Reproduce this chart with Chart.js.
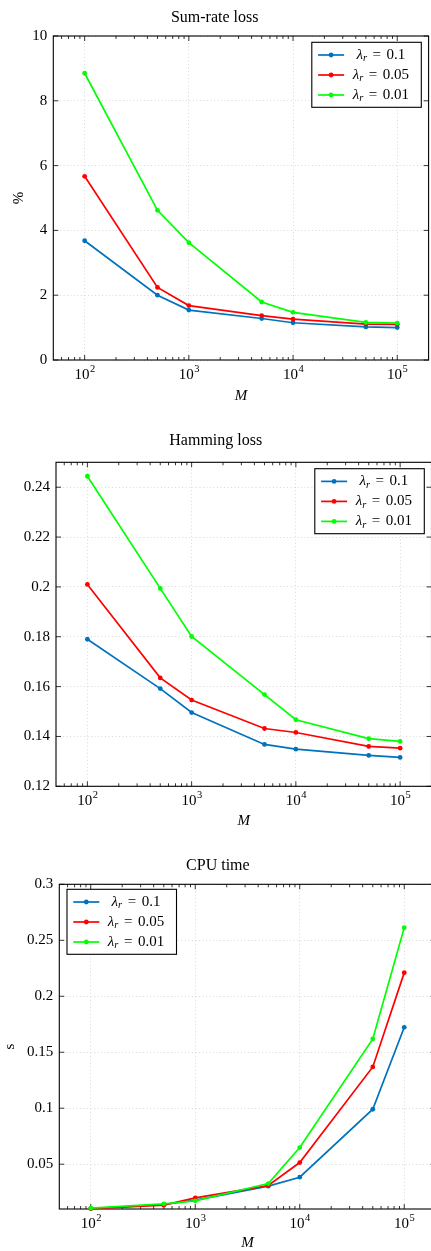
<!DOCTYPE html>
<html>
<head>
<meta charset="utf-8">
<script src="https://cdn.jsdelivr.net/npm/chart.js@4.4.0/dist/chart.umd.min.js"></script>
<style>
  body { margin: 0; background: #fff; }
  #page { position: relative; width: 431px; height: 1251px; overflow: hidden; background: #fff; }
  #page canvas { position: absolute; left: 0; }
</style>
</head>
<body>
<div id="page">
  <canvas id="sumRate"></canvas>
  <canvas id="hamming"></canvas>
  <canvas id="cpuTime"></canvas>
</div>
<script>
// number of training samples
const M = [100, 500, 1000, 5000, 10000, 50000, 100000];
const lambdaLabels = ['0.1', '0.05', '0.01'];
const seriesColors = ['#0072BD', '#FF0000', '#00FF00'];

// log axis ticks (majors get labels + grid)
const xTicks = [60, 70, 80, 90, 100, 200, 300, 400, 500, 600, 700, 800, 900,
  1000, 2000, 3000, 4000, 5000, 6000, 7000, 8000, 9000,
  10000, 20000, 30000, 40000, 50000, 60000, 70000, 80000, 90000, 100000, 200000];
const xMajor = [100, 1000, 10000, 100000];

// sum-rate loss, %
const sumRate01 = [3.68, 2.00, 1.54, 1.28, 1.15, 1.02, 1.00];
const sumRate005 = [5.67, 2.24, 1.68, 1.37, 1.26, 1.11, 1.10];
const sumRate001 = [8.85, 4.62, 3.62, 1.79, 1.47, 1.16, 1.14];
const sumRateTicks = [0, 2, 4, 6, 8, 10];

// hamming loss
const hamming01 = [0.1790, 0.1592, 0.1496, 0.1368, 0.1349, 0.1324, 0.1316];
const hamming005 = [0.2010, 0.1635, 0.1546, 0.1432, 0.1416, 0.1360, 0.1353];
const hamming001 = [0.2444, 0.1994, 0.1801, 0.1568, 0.1467, 0.1391, 0.1380];
const hammingTicks = [0.12, 0.14, 0.16, 0.18, 0.2, 0.22, 0.24];

// cpu time, s
const cpu01 = [0.0104, 0.0140, 0.0180, 0.0304, 0.0384, 0.0991, 0.1723];
const cpu005 = [0.0104, 0.0134, 0.0199, 0.0310, 0.0515, 0.1369, 0.2211];
const cpu001 = [0.0107, 0.0146, 0.0173, 0.0327, 0.0649, 0.1619, 0.2613];
const cpuTicks = [0.05, 0.1, 0.15, 0.2, 0.25, 0.3];

const FONT = '"Liberation Serif", "DejaVu Serif", serif';
const GRID = '#cfcfcf';

// frame, inward ticks and 10^n labels, pgfplots style
const frameTicks = {
  id: 'frameTicks',
  beforeDatasetsDraw(chart) {
    const { ctx, chartArea: a, scales: { x, y } } = chart;
    ctx.save();
    ctx.strokeStyle = '#000';
    ctx.lineWidth = 0.8;
    ctx.beginPath();
    x.ticks.forEach(t => {
      const px = x.getPixelForValue(t.value);
      if (px < a.left + 0.5 || px > a.right - 0.5) return;
      const len = xMajor.includes(t.value) ? 5 : 3;
      ctx.moveTo(px, a.bottom); ctx.lineTo(px, a.bottom - len);
      ctx.moveTo(px, a.top); ctx.lineTo(px, a.top + len);
    });
    y.ticks.forEach(t => {
      const py = y.getPixelForValue(t.value);
      ctx.moveTo(a.left, py); ctx.lineTo(a.left + 5, py);
      ctx.moveTo(a.right, py); ctx.lineTo(a.right - 5, py);
    });
    ctx.stroke();
    ctx.lineWidth = 1.1;
    ctx.strokeRect(a.left, a.top, a.width, a.height);

    ctx.fillStyle = '#000';
    ctx.textBaseline = 'middle';
    ctx.textAlign = 'left';
    xMajor.forEach(v => {
      const px = x.getPixelForValue(v);
      const exp = String(Math.round(Math.log10(v)));
      ctx.font = '15px ' + FONT;
      const w1 = ctx.measureText('10').width;
      ctx.font = '10.5px ' + FONT;
      const w2 = ctx.measureText(exp).width;
      const x0 = px - (w1 + w2) / 2;
      ctx.font = '15px ' + FONT;
      ctx.fillText('10', x0, a.bottom + 15);
      ctx.font = '10.5px ' + FONT;
      ctx.fillText(exp, x0 + w1 + 0.5, a.bottom + 9);
    });
    ctx.restore();
  }
};

// boxed legend with centred math labels
const boxLegend = {
  id: 'boxLegend',
  afterDraw(chart, args, opts) {
    const { ctx, chartArea: a } = chart;
    const bw = 109.5, bh = 65;
    const bx = opts.corner === 'ne' ? a.right - opts.dx - bw : a.left + opts.dx;
    const by = a.top + opts.dy;
    ctx.save();
    ctx.fillStyle = '#fff';
    ctx.fillRect(bx, by, bw, bh);
    ctx.strokeStyle = '#000';
    ctx.lineWidth = 1.1;
    ctx.strokeRect(bx, by, bw, bh);
    ctx.textBaseline = 'middle';
    ctx.textAlign = 'left';
    chart.data.datasets.forEach((ds, i) => {
      const cy = by + 12.7 + i * 20;
      ctx.strokeStyle = ds.borderColor;
      ctx.lineWidth = 1.7;
      ctx.beginPath();
      ctx.moveTo(bx + 6.3, cy); ctx.lineTo(bx + 32.3, cy);
      ctx.stroke();
      ctx.fillStyle = ds.borderColor;
      ctx.beginPath();
      ctx.arc(bx + 19.3, cy, 2.4, 0, Math.PI * 2);
      ctx.fill();

      const main = '15px ' + FONT, mainIt = 'italic 15px ' + FONT, sub = 'italic 10.5px ' + FONT;
      const val = ds.label;
      ctx.font = mainIt; const wl = ctx.measureText('λ').width;
      ctx.font = sub; const wr = ctx.measureText('r').width;
      ctx.font = main; const we = ctx.measureText('=').width; const wv = ctx.measureText(val).width;
      const gap = 5.5;
      const total = wl + wr + gap + we + gap + wv;
      let tx = bx + 69 - total / 2;
      ctx.fillStyle = '#000';
      ctx.font = mainIt; ctx.fillText('λ', tx, cy); tx += wl;
      ctx.font = sub; ctx.fillText('r', tx, cy + 3.5); tx += wr + gap;
      ctx.font = main; ctx.fillText('=', tx, cy); tx += we + gap;
      ctx.fillText(val, tx, cy);
    });
    ctx.restore();
  }
};

function makeChart(id, g, series, yMin, yMax, yTicks, title, yTitle) {
  const canvas = document.getElementById(id);
  canvas.width = g.width;
  canvas.height = g.height;
  canvas.style.top = g.top + 'px';
  canvas.style.width = g.width + 'px';
  canvas.style.height = g.height + 'px';

  const datasets = series.map((vals, i) => ({
    label: lambdaLabels[i],
    data: M.map((m, k) => ({ x: m, y: vals[k] })),
    borderColor: seriesColors[i],
    backgroundColor: seriesColors[i],
    borderWidth: 1.7,
    pointRadius: 2.4,
    pointBorderWidth: 0,
    pointHoverRadius: 2.4,
    tension: 0,
    clip: false,
    order: 3 - i
  }));

  return new Chart(canvas.getContext('2d'), {
    type: 'line',
    data: { datasets },
    options: {
      responsive: false,
      animation: false,
      devicePixelRatio: 1,
      layout: { padding: { left: 0, right: g.width - g.right, top: 0, bottom: 0 } },
      scales: {
        x: {
          type: 'logarithmic',
          min: 50,
          max: 200000,
          afterBuildTicks: s => { s.ticks = xTicks.map(v => ({ value: v, major: xMajor.includes(v) })); },
          afterFit: s => { s.height = g.height - g.bottom; },
          ticks: { display: false, autoSkip: false, maxRotation: 0, minRotation: 0 },
          grid: {
            drawTicks: false,
            lineWidth: 0.8,
            color: c => (c.tick && xMajor.includes(c.tick.value)) ? GRID : 'rgba(0,0,0,0)'
          },
          border: { display: false, dash: [1, 2.5] },
          title: {
            display: true, text: 'M', color: '#000',
            font: { family: FONT, size: 15, style: 'italic' },
            padding: { top: 0, bottom: g.xTitlePad }
          }
        },
        y: {
          type: 'linear',
          min: yMin,
          max: yMax,
          afterBuildTicks: s => { s.ticks = yTicks.map(v => ({ value: v })); },
          afterFit: s => { s.width = g.left; },
          ticks: {
            padding: 6,
            color: '#000',
            font: { family: FONT, size: 15 },
            callback: v => String(+v.toFixed(3))
          },
          grid: { drawTicks: false, lineWidth: 0.8, color: GRID },
          border: { display: false, dash: [1, 2.5] },
          title: {
            display: !!yTitle, text: yTitle || '', color: '#000',
            font: { family: FONT, size: 15 },
            padding: { top: g.yTitlePad, bottom: 0 }
          }
        }
      },
      plugins: {
        legend: { display: false },
        tooltip: { enabled: false },
        title: {
          display: true, text: title, color: '#000',
          font: { family: FONT, size: 16, weight: 'normal' },
          padding: { top: g.titleTop, bottom: g.titleBottom }
        },
        boxLegend: g.legend
      }
    },
    plugins: [frameTicks, boxLegend]
  });
}

makeChart('sumRate',
  { top: 0, width: 431, height: 410, left: 53.3, right: 429.3, bottom: 360,
    titleTop: 8, titleBottom: 8.8, yTitlePad: 10, xTitlePad: 4.5,
    legend: { corner: 'ne', dx: 7.3, dy: 6.3 } },
  [sumRate01, sumRate005, sumRate001], 0, 10, sumRateTicks, 'Sum-rate loss', '%');

makeChart('hamming',
  { top: 410, width: 440, height: 420, left: 56, right: 431.5, bottom: 376.3,
    titleTop: 21.2, titleBottom: 11.9, yTitlePad: 0, xTitlePad: -0.5,
    legend: { corner: 'ne', dx: 7.2, dy: 6.4 } },
  [hamming01, hamming005, hamming001], 0.12, 0.25, hammingTicks, 'Hamming loss', null);

makeChart('cpuTime',
  { top: 830, width: 440, height: 421, left: 59.3, right: 435.7, bottom: 379,
    titleTop: 26.2, titleBottom: 8.9, yTitlePad: 1, xTitlePad: -1.5,
    legend: { corner: 'nw', dx: 7.7, dy: 5 } },
  [cpu01, cpu005, cpu001], 0.01, 0.3, cpuTicks, 'CPU time', 's');
</script>
</body>
</html>
